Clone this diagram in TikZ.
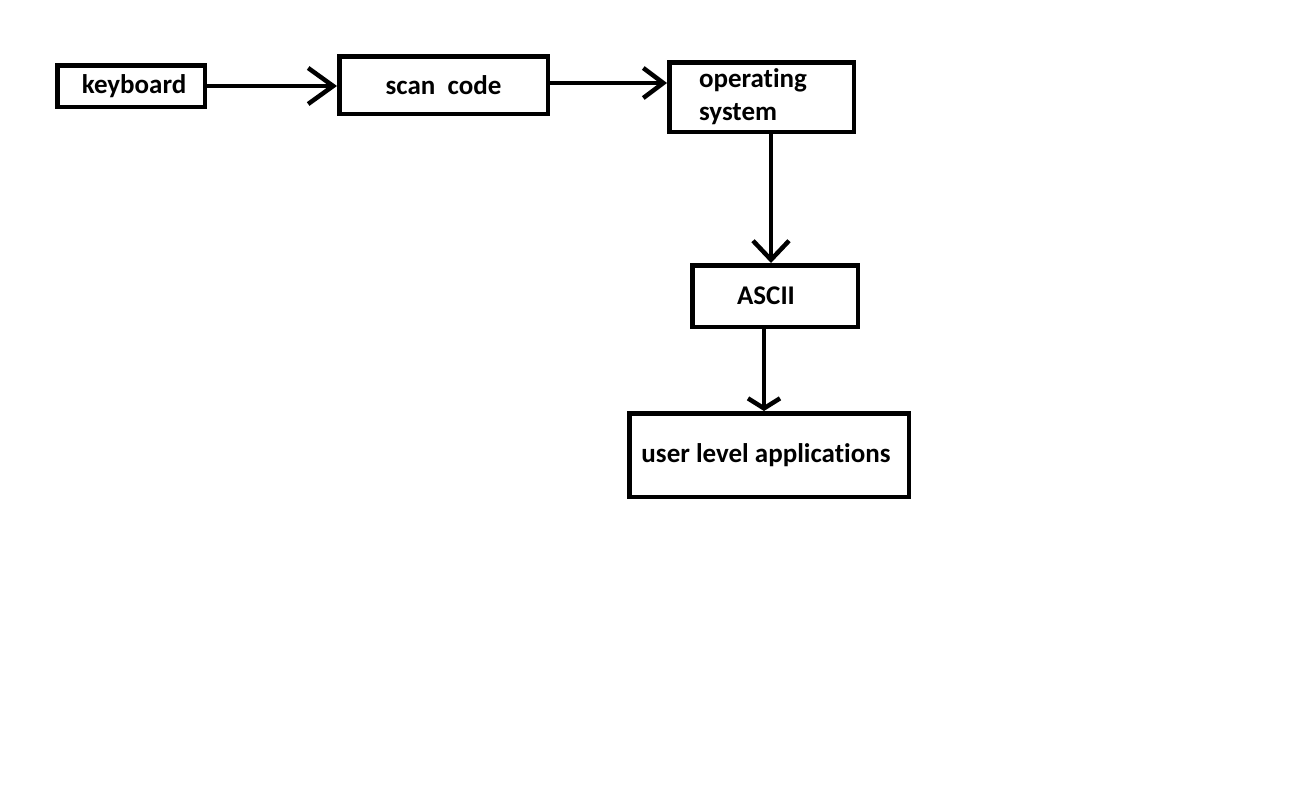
\documentclass[tikz,border=0pt]{standalone}
\usepackage{fontspec}
\setmainfont{Carlito}[Ligatures=NoCommon]
\usetikzlibrary{arrows.meta}
\begin{document}
\begin{tikzpicture}[x=1pt,y=-1pt,
  box/.style={draw=black,line width=4.5pt,rectangle,inner sep=0pt,font=\bfseries\fontsize{27}{33}\selectfont},
  arr/.style={line width=4.5pt},
  ]
\fill[white] (0,0) rectangle (1290,804);
\useasboundingbox (0,0) rectangle (1290,804);
\node[box,minimum width=147.5pt,minimum height=41.5pt] (kb) at (131,86) {\hspace{6pt}keyboard};
\node[box,minimum width=208.5pt,minimum height=57.5pt] (sc) at (443.5,85) {scan\ \ code\hspace{2pt}};
\node[box,minimum width=184.5pt,minimum height=69.5pt,align=left,text width=125pt] (os) at (761.5,97) {operating\\system};
\node[box,minimum width=165.5pt,minimum height=61.5pt] (as) at (775,296) {\hspace{-18pt}ASCII};
\node[box,minimum width=279.5pt,minimum height=83.5pt] (ua) at (769,455) {\hspace{-6pt}user level applications};
\draw[arr,-{Straight Barb[length=25pt,width=36pt]}] (kb.east) -- (kb.east -| sc.west);
\draw[arr,-{Straight Barb[length=20pt,width=30pt]}] ([yshift=2pt]sc.east) coordinate (s2) -- (s2 -| os.west);
\draw[arr,-{Straight Barb[length=19pt,width=36pt]}] ([xshift=9.5pt]os.south) coordinate (s3) -- (s3 |- as.north);
\draw[arr,-{Straight Barb[length=10pt,width=32pt]}] ([xshift=-11pt]as.south) coordinate (s4) -- (s4 |- ua.north);
\end{tikzpicture}
\end{document}
